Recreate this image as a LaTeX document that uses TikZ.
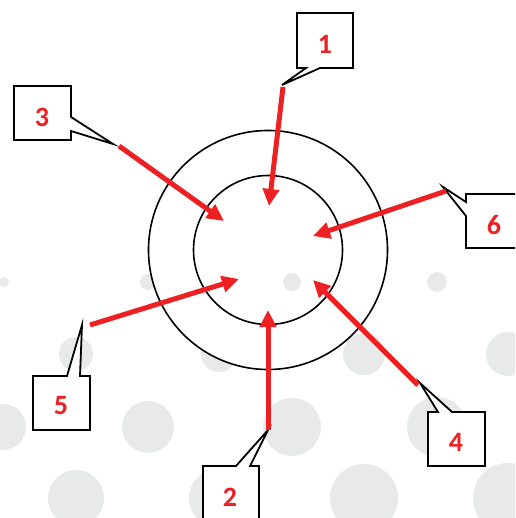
\documentclass[tikz,border=0pt]{standalone}
\usepackage{fontspec}
\setmainfont{Carlito}
\usetikzlibrary{arrows.meta}
\definecolor{callred}{RGB}{237,32,36}
\definecolor{dotgray}{RGB}{232,233,233}
\tikzset{
  dotfill/.style={fill=dotgray},
  ring/.style={draw=black, line width=1.6pt},
  callbox/.style={draw=black, fill=white, line width=1.8pt, line join=miter},
  numlabel/.style={text=callred, font=\fontsize{28}{28}\selectfont\bfseries, inner sep=0pt},
  redarrow/.style={draw=callred, line width=5pt, -{Triangle[length=17pt,width=16pt]}}
}
\begin{document}
\begin{tikzpicture}[x=1pt,y=-1pt]
\useasboundingbox (0,0) rectangle (515,518);
\begin{scope}
\clip (0,0) rectangle (515,518);
% background dots
\foreach \x/\y/\r in {4/282/5,148/282/8,292/282/9,437/282/10,
  76/354/17,219/354/18,364/354/21,508/354/22,
  3/427/23,148/427/26,292/427/29,437/427/30,
  76/498/28,218/498/29,364/498/34,508/498/35}
  \fill[dotfill] (\x,\y) circle (\r);
% target rings
\coordinate (c) at (268,250);
\fill[white, even odd rule] (c) circle (119.5) (c) circle (74.5);
\draw[ring] (c) circle (119.5);
\draw[ring] (c) circle (74.5);
% callouts
\coordinate (t1) at (282,85);
\coordinate (t2) at (268,430);
\coordinate (t3) at (113,144);
\coordinate (t4) at (420,383);
\coordinate (t5) at (82,325);
\coordinate (t6) at (443,187);
\draw[callbox] (297,13) -- (353,13) -- (353,68) -- (320,68) -- (t1) -- (306,68) -- (297,68) -- cycle;
\draw[callbox] (203,466) -- (236,466) -- (t2) -- (250,466) -- (259,466) -- (259,525) -- (203,525) -- cycle;
\draw[callbox] (14,86) -- (71,86) -- (71,117) -- (t3) -- (71,131) -- (71,140) -- (14,140) -- cycle;
\draw[callbox] (428,412) -- (438,412) -- (t4) -- (452,412) -- (485,412) -- (485,466) -- (428,466) -- cycle;
\draw[callbox] (33,376) -- (67,376) -- (t5) -- (80,376) -- (90,376) -- (90,430) -- (33,430) -- cycle;
\draw[callbox] (466,194) -- (525,194) -- (525,248) -- (466,248) -- (466,216) -- (t6) -- (466,202) -- cycle;
\node[numlabel] (n1) at (325,44) {1};
\node[numlabel] (n2) at (230,497) {2};
\node[numlabel] (n3) at (42,117) {3};
\node[numlabel] (n4) at (456,442) {4};
\node[numlabel] (n5) at (61,406) {5};
\node[numlabel] (n6) at (494,225) {6};
% arrows
\coordinate (s1) at (283,87);  \coordinate (e1) at (269,206);
\coordinate (s2) at (268,430); \coordinate (e2) at (268,310);
\coordinate (s3) at (119,146); \coordinate (e3) at (224,221);
\coordinate (s4) at (418,385); \coordinate (e4) at (313,280);
\coordinate (s5) at (90,325);  \coordinate (e5) at (239,279);
\coordinate (s6) at (446,191); \coordinate (e6) at (313,236);
\foreach \i in {1,...,6} \draw[redarrow] (s\i) -- (e\i);
\end{scope}
\end{tikzpicture}
\end{document}
